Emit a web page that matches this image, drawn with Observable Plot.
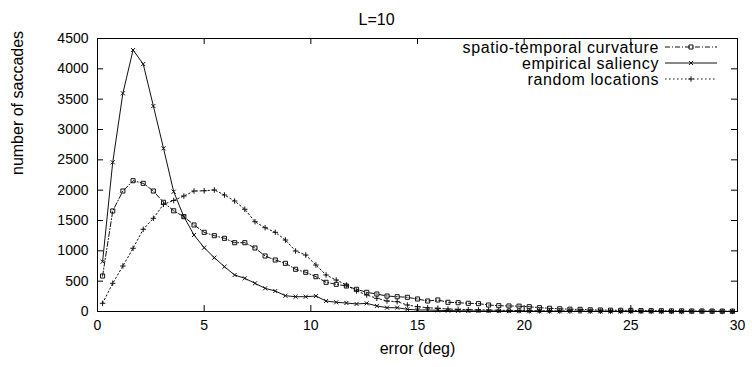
<!DOCTYPE html>
<html><head><meta charset="utf-8">
<script src="https://cdn.jsdelivr.net/npm/d3@7"></script>
<script src="https://cdn.jsdelivr.net/npm/@observablehq/plot@0.6"></script>
<style>body{margin:0;background:#fff}#chart{width:752px;height:367px}</style>
</head><body><div id="chart"></div>
<script>
const titleText = "L=10";
const xLabel = "error (deg)";
const yLabel = "number of saccades";
const seriesNames = ["spatio-temporal curvature", "empirical saliency", "random locations"];
const xTicks = [0, 5, 10, 15, 20, 25, 30];
const yTicks = [0, 500, 1000, 1500, 2000, 2500, 3000, 3500, 4000, 4500];
const xs = [0.238,0.714,1.190,1.667,2.143,2.619,3.095,3.571,4.048,4.524,5.000,5.476,5.952,6.429,6.905,7.381,7.857,8.333,8.810,9.286,9.762,10.238,10.714,11.190,11.667,12.143,12.619,13.095,13.571,14.048,14.524,15.000,15.476,15.952,16.429,16.905,17.381,17.857,18.333,18.810,19.286,19.762,20.238,20.714,21.190,21.667,22.143,22.619,23.095,23.571,24.048,24.524,25.000,25.476,25.952,26.429,26.905,27.381,27.857,28.333,28.810,29.286,29.762];
const curvature = [585,1657,1986,2156,2113,1986,1800,1660,1563,1426,1305,1250,1206,1134,1134,1047,915,849,794,696,646,574,481,448,420,366,316,288,255,244,234,206,173,190,152,145,135,130,107,96,91,88,79,63,53,45,38,35,28,25,22,20,18,15,14,12,10,10,8,8,7,6,5];
const empirical = [821,2459,3597,4310,4079,3387,2690,1975,1563,1261,1052,887,738,602,547,465,382,338,260,244,244,255,173,152,140,124,135,91,63,63,36,25,25,20,15,12,10,9,8,7,6,5,5,4,4,3,3,3,2,2,2,2,1,1,1,1,1,1,0,0,0,0,0];
const randomLoc = [135,465,750,1042,1355,1536,1767,1830,1904,1986,1990,2003,1920,1821,1685,1480,1381,1305,1178,997,931,766,602,519,437,338,272,217,173,162,107,79,63,53,41,35,30,27,24,20,18,15,13,11,10,9,8,7,6,5,5,4,4,3,3,3,2,2,2,2,1,1,1];

const seriesValues = [curvature, empirical, randomLoc];
const dashes = ["5,2,1,2", null, "1.5,2.5"];
const symbols = [d3.symbolSquare, d3.symbolTimes, d3.symbolPlus];
const radii = [2.3, 2.0, 1.9];

const W = 752, H = 367, mL = 97, mR = 15, mT = 38, mB = 56;
const fw = W - mL - mR, fh = H - mT - mB;
const font = "'Liberation Sans', Arial, Helvetica, sans-serif";
const labelSize = 16;

const marks = [];
seriesValues.forEach((vals, si) => {
  const rows = xs.map((x, i) => ({x, y: vals[i]}));
  marks.push(Plot.line(rows, {x: "x", y: "y", stroke: "#111", strokeWidth: 1, strokeDasharray: dashes[si] || undefined}));
  marks.push(Plot.dot(rows, {x: "x", y: "y", symbol: symbols[si], r: radii[si], stroke: "#111", strokeWidth: 1, fill: "none"}));
});
marks.push(Plot.frame({stroke: "black", strokeWidth: 1}));
marks.push(Plot.tickY(yTicks, {y: d => d, insetRight: fw - 6, stroke: "black"}));
marks.push(Plot.tickY(yTicks, {y: d => d, insetLeft: fw - 6, stroke: "black"}));
marks.push(Plot.tickX(xTicks, {x: d => d, insetTop: fh - 6, stroke: "black"}));
marks.push(Plot.tickX(xTicks, {x: d => d, insetBottom: fh - 6, stroke: "black"}));
marks.push(Plot.text([titleText], {text: d => d, frameAnchor: "top", dx: W / 2 - (mL + fw / 2), dy: -25, fontSize: labelSize}));
marks.push(Plot.text([xLabel], {text: d => d, frameAnchor: "bottom", dy: 42, fontSize: labelSize}));
marks.push(Plot.text([yLabel], {text: d => d, frameAnchor: "left", rotate: -90, dx: -80, fontSize: labelSize}));
marks.push(function legend(index, scales, values, dimensions) {
  const dims = dimensions || {width: W, marginRight: mR, marginTop: mT};
  const right = dims.width - dims.marginRight;
  const g = d3.create("svg:g");
  seriesNames.forEach((name, i) => {
    const cy = dims.marginTop + 9 + i * 16;
    g.append("text").attr("x", right - 78).attr("y", cy).attr("dy", "0.35em")
      .attr("text-anchor", "end").attr("font-size", labelSize).attr("letter-spacing", "0.6px")
      .attr("fill", "black").text(name);
    const x1 = right - 72, x2 = right - 20;
    g.append("line").attr("x1", x1).attr("x2", x2).attr("y1", cy).attr("y2", cy)
      .attr("stroke", "#111").attr("stroke-width", 1).attr("stroke-dasharray", dashes[i]);
    g.append("path").attr("transform", `translate(${(x1 + x2) / 2},${cy})`)
      .attr("d", d3.symbol(symbols[i], radii[i] * radii[i] * Math.PI)())
      .attr("fill", "none").attr("stroke", "#111");
  });
  return g.node();
});

const chart = Plot.plot({
  width: W, height: H,
  marginLeft: mL, marginRight: mR, marginTop: mT, marginBottom: mB,
  style: {fontFamily: font, fontSize: "14px", background: "white", color: "black"},
  x: {domain: [0, 30], ticks: xTicks, tickSize: 0, tickPadding: 9, label: null, tickFormat: d3.format("d")},
  y: {domain: [0, 4500], ticks: yTicks, tickSize: 0, tickPadding: 9, label: null, tickFormat: d3.format("d")},
  marks
});
document.getElementById("chart").appendChild(chart);
</script>
</body></html>
